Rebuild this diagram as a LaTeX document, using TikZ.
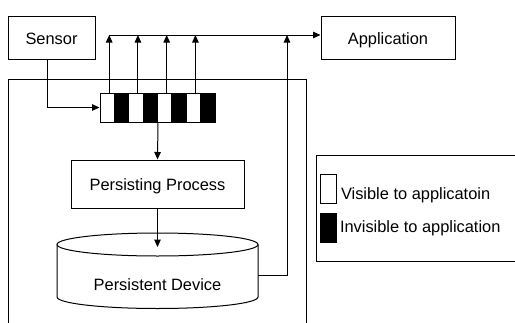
\documentclass[tikz,border=0pt]{standalone}
\usepackage{fontspec}
\setmainfont{Liberation Sans}
\usepackage{tikz}
\usetikzlibrary{arrows.meta}
\tikzstyle{block}=[draw, rectangle
,inner sep=0pt
,text height=13.2pt, text depth=0pt
,font=\fontsize{16.4}{19}\selectfont
]
\tikzstyle{visible cell} = [draw, rectangle, fill=white
,minimum width=14.375pt, minimum height=29pt
,inner sep=0pt
]
\tikzstyle{invisible cell} = [visible cell, fill=black]
\tikzstyle{legend text} = [inner sep=0pt, anchor=base west, font=\fontsize{16.4}{19}\selectfont]
\tikzstyle{flow} = [draw, -{Triangle[length=7.5pt,width=6.5pt]}]

\begin{document}
\begin{tikzpicture}[x=1pt, y=-1pt, line width=1pt]
    \clip (0,0) rectangle (515,322);
    % Host frame and legend frame run off the page
    \draw (8,79) rectangle (306,340);
    \draw (316,155) rectangle (540,261);

    % First we draw the boxes
    \node[block, minimum width=87pt, minimum height=43pt] (sensor) at (51.5,37.5) {Sensor};
    \node[block, minimum width=134pt, minimum height=43pt] (app) at (388,37.5) {Application};
    \node[block, minimum width=173pt, minimum height=48pt] (proc) at (157.5,184) {Persisting Process};

    % Buffer: white and black cells in turn
    \foreach \i in {1,3,5,7}
        \node[visible cell] (c\i) at ({100+14.375*(\i-0.5)},107.5) {};
    \foreach \i in {2,4,6,8}
        \node[invisible cell] (c\i) at ({100+14.375*(\i-0.5)},107.5) {};

    % Persistent device as a drum
    \draw (57,244.5) -- (57,297) arc[start angle=180, end angle=0, x radius=100.5, y radius=11.5] -- (258,244.5);
    \draw (157.5,244.5) ellipse [x radius=100.5, y radius=11.5];
    \node[inner sep=0pt, anchor=base, font=\fontsize{16.4}{19}\selectfont] (dev) at (157.5,290.5) {Persistent Device};
    \coordinate (dev-n) at (157.5,247);
    \coordinate (dev-e) at (258,275);

    % Bus to the application
    \coordinate (bus) at (109,35);
    \coordinate (out) at (287,35);

    % Connect everything
    \draw[flow] ([xshift=-4.5pt]sensor.south) |- (c1.west);
    \foreach \i in {1,3,5,7}
        \draw[flow] ([xshift=2pt]c\i.north) -- ([xshift=2pt]c\i.north |- bus);
    \draw[flow] (bus) -- (bus -| app.west);
    \draw[flow] (c4.south east) -- (proc.north);
    \draw[flow] (proc.south) -- (dev-n);
    \draw[flow] (dev-e) -| (out);

    % Legend
    \draw[fill=white] (320,174) rectangle (336,203);
    \draw[fill=black] (320,213) rectangle (336,242);
    \node[legend text] (vis) at (340.5,199.3) {Visible to applicatoin};
    \node[legend text] (invis) at (339.5,232.3) {Invisible to application};
\end{tikzpicture}
\end{document}
